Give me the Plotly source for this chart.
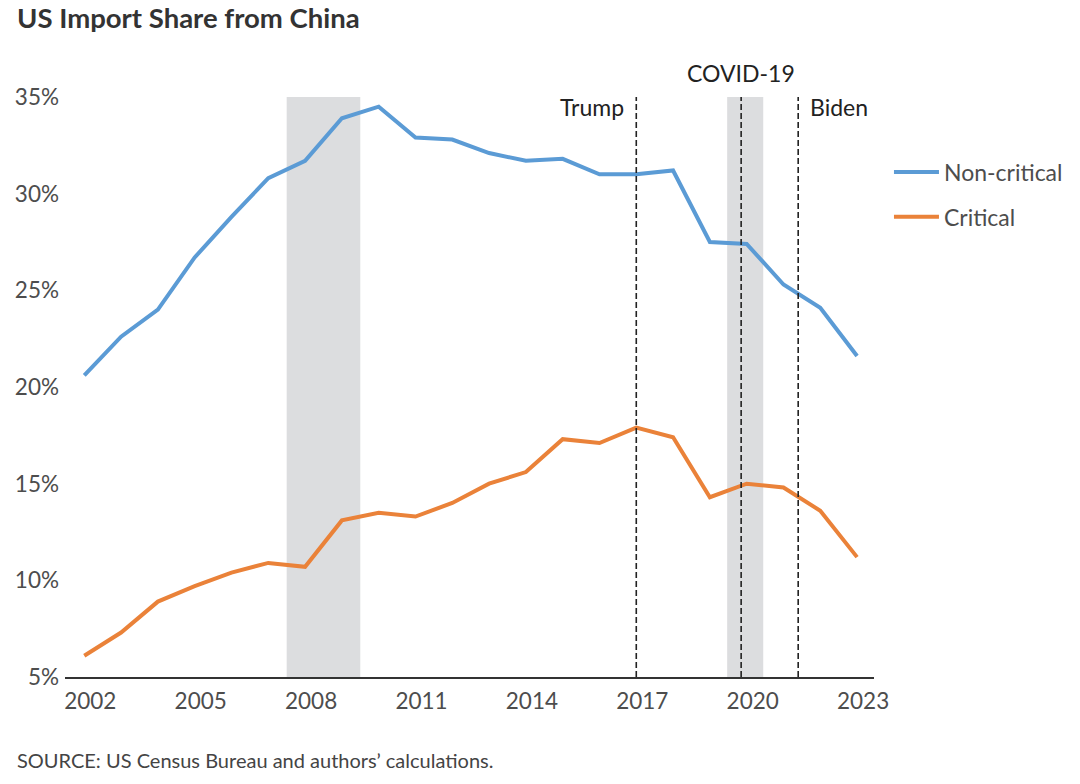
import plotly.graph_objects as go

# ---- data ----
years = [2002, 2003, 2004, 2005, 2006, 2007, 2008, 2009, 2010, 2011, 2012,
         2013, 2014, 2015, 2016, 2017, 2018, 2019, 2020, 2021, 2022, 2023]
non_critical = [20.6, 22.6, 24.0, 26.7, 28.8, 30.8, 31.7, 33.9, 34.5, 32.9, 32.8,
                32.1, 31.7, 31.8, 31.0, 31.0, 31.2, 27.5, 27.4, 25.3, 24.1, 21.6]
critical = [6.1, 7.3, 8.9, 9.7, 10.4, 10.9, 10.7, 13.1, 13.5, 13.3, 14.0,
            15.0, 15.6, 17.3, 17.1, 17.9, 17.4, 14.3, 15.0, 14.8, 13.6, 11.2]

x_ticks = [2002, 2005, 2008, 2011, 2014, 2017, 2020, 2023]
y_ticks = [5, 10, 15, 20, 25, 30, 35]

shaded_periods = [(2007.5, 2009.5), (2019.47, 2020.45)]
event_names = ["Trump", "COVID-19", "Biden"]
event_years = [2017.0, 2019.85, 2021.4]

FONT = "Lato"
BLUE = "#5b9bd5"
ORANGE = "#ea8239"
W, H = 1080, 784

fig = go.Figure()
fig.add_trace(go.Scatter(x=years, y=non_critical, mode="lines", name="Non-critical",
                         line=dict(color=BLUE, width=4), legendgroup="a"))
fig.add_trace(go.Scatter(x=years, y=critical, mode="lines", name="Critical",
                         line=dict(color=ORANGE, width=4), legendgroup="b"))

for x0, x1 in shaded_periods:
    fig.add_vrect(x0=x0, x1=x1, fillcolor="#dcdddf", line_width=0, layer="below")

for name, yr in zip(event_names, event_years):
    fig.add_vline(x=yr, line=dict(color="#222222", width=1.6, dash="6px,3px"), layer="above")

ann_font = dict(family=FONT, size=23, color="#222222")
fig.add_annotation(x=event_years[0], y=0.983, xref="x", yref="paper", text=event_names[0],
                   showarrow=False, xanchor="right", yanchor="middle", xshift=-10, font=ann_font)
fig.add_annotation(x=event_years[1], y=1.041, xref="x", yref="paper", text=event_names[1],
                   showarrow=False, xanchor="center", yanchor="middle", font=ann_font)
fig.add_annotation(x=event_years[2], y=0.983, xref="x", yref="paper", text=event_names[2],
                   showarrow=False, xanchor="left", yanchor="middle", xshift=10, font=ann_font)

fig.add_annotation(x=-0.0593, y=-0.143, xref="paper", yref="paper",
                   text="SOURCE: US Census Bureau and authors\u2019 calculations.",
                   showarrow=False, xanchor="left", yanchor="middle", xshift=-2,
                   font=dict(family=FONT, size=20, color="#444444"))

fig.update_layout(
    width=W, height=H,
    margin=dict(l=65, r=206, t=97, b=107),
    paper_bgcolor="white", plot_bgcolor="white",
    title=dict(text="<b>US Import Share from China</b>", x=17 / W, xanchor="left",
               xref="container", yref="container", y=1 - 18 / H, yanchor="middle",
               font=dict(family=FONT, size=27.5, color="#333333")),
    font=dict(family=FONT, size=22.5, color="#4d4d4d"),
    showlegend=True,
    legend=dict(x=1.0185, xanchor="left", y=0.9078, yanchor="top",
                font=dict(family=FONT, size=23, color="#4d4d4d"),
                tracegroupgap=12, itemwidth=45, bgcolor="rgba(0,0,0,0)"),
    xaxis=dict(range=[2001.476, 2023.46], tickvals=x_ticks, ticktext=[str(t) for t in x_ticks],
               showgrid=False, zeroline=False, showline=True, linecolor="#333333", linewidth=2,
               ticks="", ticklabelstandoff=3, ticklabelshift=6,
               tickfont=dict(family=FONT, size=22.5, color="#4d4d4d")),
    yaxis=dict(range=[5, 35], tickvals=y_ticks, ticktext=[f"{t}%" for t in y_ticks],
               showgrid=False, zeroline=False, showline=False, ticks="",
               ticklabelstandoff=5, tickfont=dict(family=FONT, size=22.5, color="#4d4d4d")),
)

# remove the browser's default 8px body margin so the figure fills the window exactly
fig.write_html("out.html", config={"displayModeBar": False},
               post_script="document.body.style.margin='0px';")
